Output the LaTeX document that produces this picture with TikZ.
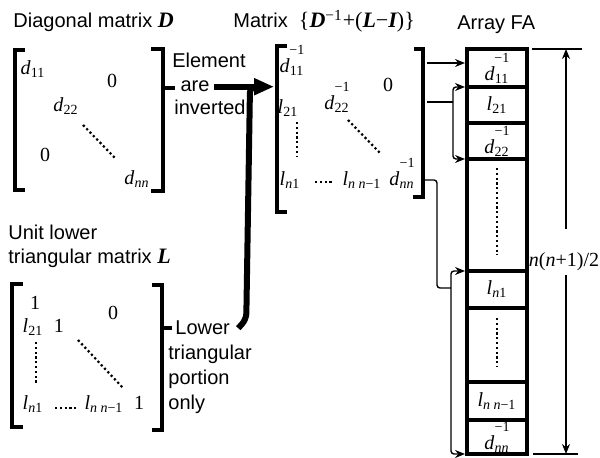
\documentclass[tikz,border=0pt]{standalone}
\usepackage{fontspec}
\setmainfont{Liberation Sans}
\newfontfamily\tms{Liberation Serif}
\usetikzlibrary{arrows.meta, positioning}
% entries of the matrices
\newcommand{\msub}[2]{\textit{#1}\textsubscript{#2}}
\newcommand{\dinv}[1]{\textit{d}\textsubscript{#1}\llap{\raisebox{9pt}{\fontsize{7}{8}\selectfont −1}}}
\newcommand{\bmat}[1]{{\tms\fontsize{11}{12}\selectfont\bfseries\itshape #1}}
\tikzset{
	ttl/.style   ={font=\fontsize{10}{12}\selectfont, inner sep=0pt, anchor=base west},
	mel/.style   ={font=\tms\fontsize{10}{11}\selectfont, inner sep=0pt, anchor=base},
	brk/.style   ={line width=2pt},
	dots/.style  ={line width=1.1pt, dash pattern=on 1.1pt off 1.3pt},
	cell/.style  ={draw, line width=2pt, minimum width=30pt, outer sep=0pt, inner sep=0pt, font=\tms\fontsize{10}{11}\selectfont},
	% connectors
	bigarr/.style={line width=3pt, -{Triangle[length=10pt,width=8pt]}},
	bigline/.style={line width=3pt, rounded corners=3pt},
	sig/.style   ={line width=0.7pt, -{Stealth[length=5pt,width=4pt]}, shorten >=1pt},
	rng/.style   ={line width=0.7pt, {Stealth[length=5pt,width=4pt]}-{Stealth[length=5pt,width=4pt]}, shorten >=1pt, shorten <=1pt, rounded corners=1.5pt},
	dimarr/.style={line width=0.6pt, -{Stealth[length=5pt,width=4pt]}},
}

\begin{document}
\begin{tikzpicture}[x=0.5pt, y=-0.5pt]
\useasboundingbox (0,0) rectangle (600,458);
% titles
\node[ttl] (tD) at (13,28) {Diagonal matrix \bmat{D}};
\node[ttl] (tM) at (233,28) {Matrix \ {\tms\fontsize{11}{12}\selectfont\{\bmat{D}\textsuperscript{−1}+(\bmat{L}−\bmat{I})\}}};
\node[ttl] (tA) at (457,30) {Array FA};
\node[ttl] (tU1) at (8,240) {Unit lower};
\node[ttl] (tU2) at (8,264) {triangular matrix \bmat{L}};

% matrix D
\draw[brk] (25,50) -| (15,190) -- (25,190);
\draw[brk] (151,49) -| (163,191) -- (151,191);
\node[mel] (D11) at (33,75) {\msub{d}{11}};
\node[mel] (D0a) at (112,88) {0};
\node[mel] (D22) at (66,112) {\msub{d}{22}};
\node[mel] (D0b) at (45,162) {0};
\node[mel] (Dnn) at (137,185) {\msub{d}{\textit{nn}}};
\draw[dots] (83,125) -- (115,158);

% matrix L
\draw[brk] (23,284) -| (12,427) -- (23,427);
\draw[brk] (152,285) -| (162,430) -- (152,430);
\node[mel] (L11) at (35,310) {1};
\node[mel] (L0) at (113,320) {0};
\node[mel] (L21) at (33,333) {\msub{l}{21}};
\node[mel] (L22) at (59,333) {1};
\node[mel] (Ln1) at (33,410) {\msub{l}{\textit{n}1}};
\node[mel] (Lnm) at (104,410) {\msub{l}{\textit{n n}−1}};
\node[mel] (Lnn) at (139,410) {1};
\draw[dots] (36,342) -- (36,385);
\draw[dots] (78,340) -- (123,388);
\draw[dots] (55,408) -- (77,408);

% labels between the matrices
\draw[brk] (163,88) -- (175,88);
\node[ttl, anchor=base] (tEl) at (209,68) {Element};
\node[ttl, anchor=base] (tAre) at (195,92) {are};
\node[ttl, anchor=base] (tInv) at (210,115) {inverted};
\draw[brk] (162,328) -- (172,328);
\node[ttl] (tLo1) at (175,335) {Lower};
\node[ttl] (tLo2) at (168,360) {triangular};
\node[ttl] (tLo3) at (168,385) {portion};
\node[ttl] (tLo4) at (168,410) {only};

% matrix D^-1 + (L-I)
\draw[brk] (287,46) -| (277,212) -- (287,212);
\draw[brk] (414,49) -| (423,197) -- (413,197);
\node[mel] (M11) at (292,73) {\dinv{11}};
\node[mel] (M0) at (388,92) {0};
\node[mel] (M21) at (288,114) {\msub{l}{21}};
\node[mel] (M22) at (337,110) {\dinv{22}};
\node[mel] (Mn1) at (290,186) {\msub{l}{\textit{n}1}};
\node[mel] (Mnm) at (362,186) {\msub{l}{\textit{n n}−1}};
\node[mel] (Mnn) at (402,186) {\dinv{\textit{nn}}};
\draw[dots] (297,122) -- (297,157);
\draw[dots] (348,120) -- (380,153);
\draw[dots] (315,182) -- (332,182);

% the two parts go into one arrow
\coordinate (Ml) at (274,88);
\coordinate (J) at (250,0);
\draw[bigline] ([xshift=4pt]tLo1.east) -- ++(8,-9) -- (tAre.east -| J) -- ++(12,0);
\draw[bigarr] ([xshift=2pt]tAre.east) -- (Ml |- tAre.east);

% array FA
\node[cell, minimum height=19pt, anchor=north] (c1) at (497,49) {\dinv{11}};
\node[cell, minimum height=18pt, below=0pt of c1] (c2) {\msub{l}{21}};
\node[cell, minimum height=18pt, below=0pt of c2] (c3) {\dinv{22}};
\node[cell, minimum height=56pt, below=0pt of c3] (c4) {};
\node[cell, minimum height=18.5pt, below=0pt of c4] (c5) {\msub{l}{\textit{n}1}};
\node[cell, minimum height=37pt, below=0pt of c5] (c6) {};
\node[cell, minimum height=19pt, below=0pt of c6] (c7) {\msub{l}{\textit{n n}−1}};
\node[cell, minimum height=17pt, below=0pt of c7] (c8) {\dinv{\textit{nn}}};
\draw[dots] ([yshift=-4.5pt]c4.north) -- ([yshift=8pt]c4.south);
\draw[dots] ([yshift=-5pt]c6.north) -- ([yshift=7.5pt]c6.south);

% rows to cells
\coordinate (r1) at (427,63);
\coordinate (r2) at (427,102);
\coordinate (rn) at (425,180);
\coordinate (s2) at (453,0);
\coordinate (sn) at (451,0);
\coordinate (kn) at (437,288);
\draw[sig] (r1) -- (r1 -| c1.west);
\draw[line width=0.7pt] (r2) -- (r2 -| s2);
\draw[rng] (c2.north west) -| (s2 |- r2) |- (c3.south west);
\draw[line width=0.7pt, rounded corners=1.5pt] (rn) -| (kn) -- (kn -| sn);
\draw[rng] (c5.north west) -| (sn |- kn) |- (c8.south west);

% size of the array
\coordinate (dT) at (566,49);
\coordinate (dB) at (566,454);
\draw[line width=0.6pt] (532,49) -- (582,49);
\draw[line width=0.6pt] (533,454) -- (578,454);
\node[font=\tms\fontsize{10}{11}\selectfont, inner sep=0pt] (dimtxt) at (564,262) {\textit{n}(\textit{n}+1)/2};
\coordinate (dTa) at ([yshift=12pt]dimtxt.north);
\coordinate (dBa) at ([yshift=-2pt]dimtxt.south);
\draw[dimarr] (dTa -| dT) -- (dT);
\draw[dimarr] (dBa -| dB) -- (dB);
\end{tikzpicture}
\end{document}
